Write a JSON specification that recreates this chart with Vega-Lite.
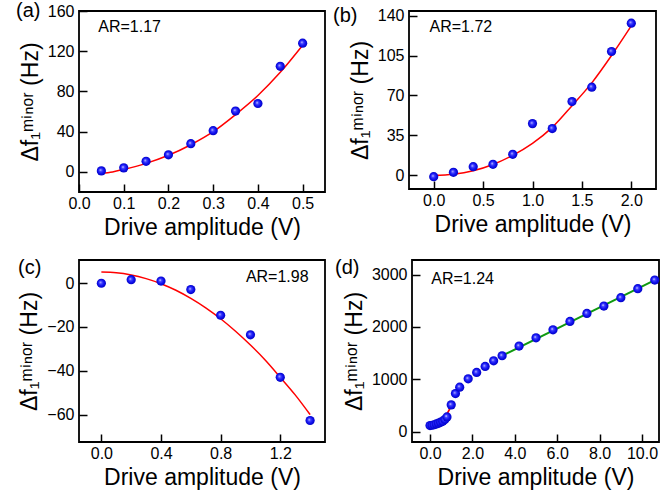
{
  "$schema": "https://vega.github.io/schema/vega-lite/v6.json",
  "padding": {"left": 15, "top": 0, "right": 0, "bottom": 0},
  "background": "white",
  "config": {
    "view": {"stroke": "black", "strokeWidth": 1.8},
    "font": "Liberation Sans",
    "axis": {
      "domain": false, "grid": false,
      "labelFont": "Liberation Sans", "labelFontSize": 16, "labelColor": "black", "labelLimit": 300,
      "titleFont": "Liberation Sans", "titleFontSize": 23, "titleFontWeight": "normal", "titleColor": "black",
      "tickColor": "black", "tickWidth": 1.5, "tickSize": -8,
      "labelFlush": false, "labelOverlap": false
    },
    "axisX": {"labelPadding": 11, "titlePadding": 5, "labelOverlap": false, "labelLimit": 300},
    "axisY": {"labelPadding": 13, "titlePadding": 5, "labelOverlap": false, "labelLimit": 300},
    "title": {"font": "Liberation Sans", "fontSize": 20, "fontWeight": "normal", "color": "black", "anchor": "start", "frame": "group"}
  },
  "datasets": {
    "pa": [{"v":0.05,"f":1},{"v":0.1,"f":4},{"v":0.15,"f":10.5},{"v":0.2,"f":17},{"v":0.25,"f":28},{"v":0.3,"f":41},{"v":0.35,"f":60.5},{"v":0.4,"f":68},{"v":0.45,"f":105},{"v":0.5,"f":128}],
    "fa": [{"v":0.05,"f":-1.5},{"v":0.075,"f":0},{"v":0.1,"f":2.5},{"v":0.15,"f":8.5},{"v":0.2,"f":16.5},{"v":0.25,"f":27},{"v":0.3,"f":40},{"v":0.35,"f":57},{"v":0.4,"f":76},{"v":0.45,"f":99},{"v":0.5,"f":126}],
    "pb": [{"v":0,"f":-1.2},{"v":0.2,"f":2.6},{"v":0.4,"f":7.6},{"v":0.6,"f":9.6},{"v":0.8,"f":18.4},{"v":1.0,"f":45.3},{"v":1.2,"f":41},{"v":1.4,"f":64.6},{"v":1.6,"f":77.2},{"v":1.8,"f":108.5},{"v":2.0,"f":133.3}],
    "fb": [{"v":0,"f":0},{"v":0.2,"f":1},{"v":0.4,"f":4},{"v":0.6,"f":9.5},{"v":0.8,"f":17.5},{"v":1.0,"f":28},{"v":1.2,"f":42},{"v":1.4,"f":61},{"v":1.6,"f":81},{"v":1.8,"f":105},{"v":2.0,"f":131}],
    "pc": [{"v":0,"f":-0.1},{"v":0.2,"f":1.5},{"v":0.4,"f":0.9},{"v":0.6,"f":-3},{"v":0.8,"f":-14.7},{"v":1.0,"f":-23.6},{"v":1.2,"f":-43},{"v":1.4,"f":-62.7}],
    "fc": [{"v":0,"f":5},{"v":0.1,"f":4.7},{"v":0.2,"f":3.7},{"v":0.3,"f":2},{"v":0.4,"f":-0.3},{"v":0.5,"f":-3.3},{"v":0.6,"f":-7},{"v":0.7,"f":-11.3},{"v":0.8,"f":-16.3},{"v":0.9,"f":-22},{"v":1.0,"f":-28.3},{"v":1.1,"f":-35.2},{"v":1.2,"f":-43},{"v":1.3,"f":-51},{"v":1.4,"f":-60}],
    "pd": [{"v":0,"f":115},{"v":0.1,"f":120},{"v":0.2,"f":130},{"v":0.3,"f":145},{"v":0.4,"f":160},{"v":0.5,"f":178},{"v":0.6,"f":195},{"v":0.7,"f":230},{"v":0.8,"f":280},{"v":1.0,"f":510},{"v":1.2,"f":727},{"v":1.4,"f":849},{"v":1.8,"f":1008},{"v":2.2,"f":1130},{"v":2.6,"f":1244},{"v":3.0,"f":1353},{"v":3.4,"f":1449},{"v":4.2,"f":1634},{"v":5.0,"f":1793},{"v":5.8,"f":1946},{"v":6.6,"f":2106},{"v":7.4,"f":2259},{"v":8.2,"f":2400},{"v":9.0,"f":2559},{"v":9.8,"f":2731},{"v":10.6,"f":2897}],
    "fd": [{"v":0,"f":100},{"v":0.1,"f":103},{"v":0.2,"f":111},{"v":0.3,"f":128},{"v":0.4,"f":152},{"v":0.5,"f":186},{"v":0.6,"f":228},{"v":0.7,"f":280},{"v":0.8,"f":340},{"v":0.9,"f":410},{"v":0.97,"f":467}],
    "gd": [{"v":3.4,"f":1450},{"v":10.6,"f":2895}]
  },
  "vconcat": [
    {
      "hconcat": [
        {
          "width": 246, "height": 181,
          "title": {"text": "(a)", "dy": 22, "dx": -63},
          "layer": [
            {"data": {"name": "fa"}, "mark": {"type": "line", "color": "#ff0000", "strokeWidth": 1.5, "interpolate": "monotone"},
             "encoding": {
               "x": {"field": "v", "type": "quantitative", "scale": {"domain": [0, 0.55], "nice": false, "zero": false},
                     "axis": {"title": "Drive amplitude (V)", "values": [0,0.05,0.1,0.15,0.2,0.25,0.3,0.35,0.4,0.45,0.5], "labelOverlap": false, "labelLimit": 300,
                              "labelExpr": "indexof([0,0.1,0.2,0.3,0.4,0.5], datum.value) >= 0 ? format(datum.value,'.1f') : ''"}},
               "y": {"field": "f", "type": "quantitative", "scale": {"domain": [-20, 160], "nice": false, "zero": false},
                     "axis": {"title": "Δf₁ᵐⁱⁿᵒʳ (Hz)", "values": [0,20,40,60,80,100,120,140,160], "labelOverlap": false, "labelLimit": 300,
                              "labelExpr": "indexof([0,40,80,120,160], datum.value) >= 0 ? format(datum.value,'d') : ''"}}
             }},
            {"data": {"name": "pa"}, "mark": {"type": "point", "filled": true, "size": 85, "opacity": 1,
               "fill": {"gradient": "radial", "x1": 0.4, "y1": 0.4, "r1": 0, "x2": 0.5, "y2": 0.5, "r2": 0.55,
                        "stops": [{"offset": 0, "color": "#e8e8ff"}, {"offset": 0.25, "color": "#4848ff"}, {"offset": 0.6, "color": "#1010f0"}, {"offset": 1, "color": "#0000b8"}]}},
             "encoding": {"x": {"field": "v", "type": "quantitative"}, "y": {"field": "f", "type": "quantitative"}}},
            {"data": {"values": [{"label": "AR=1.17"}]},
             "mark": {"type": "text", "align": "left", "baseline": "alphabetic", "fontSize": 16, "font": "Liberation Sans", "color": "black"},
             "encoding": {"x": {"datum": 0.043, "type": "quantitative"}, "y": {"datum": 139, "type": "quantitative"}, "text": {"field": "label"}}}
          ]
        },
        {
          "width": 247, "height": 178,
          "title": {"text": "(b)", "dy": 22, "dx": -76},
          "layer": [
            {"data": {"name": "fb"}, "mark": {"type": "line", "color": "#ff0000", "strokeWidth": 1.5, "interpolate": "monotone"},
             "encoding": {
               "x": {"field": "v", "type": "quantitative", "scale": {"domain": [-0.25, 2.25], "nice": false, "zero": false},
                     "axis": {"title": "Drive amplitude (V)", "values": [0,0.25,0.5,0.75,1,1.25,1.5,1.75,2], "labelOverlap": false, "labelLimit": 300,
                              "labelExpr": "indexof([0,0.5,1,1.5,2], datum.value) >= 0 ? format(datum.value,'.1f') : ''"}},
               "y": {"field": "f", "type": "quantitative", "scale": {"domain": [-12, 144], "nice": false, "zero": false},
                     "axis": {"title": "Δf₁ᵐⁱⁿᵒʳ (Hz)", "values": [0,17.5,35,52.5,70,87.5,105,122.5,140], "labelOverlap": false, "labelLimit": 300,
                              "labelExpr": "indexof([0,35,70,105,140], datum.value) >= 0 ? format(datum.value,'d') : ''"}}
             }},
            {"data": {"name": "pb"}, "mark": {"type": "point", "filled": true, "size": 85, "opacity": 1,
               "fill": {"gradient": "radial", "x1": 0.4, "y1": 0.4, "r1": 0, "x2": 0.5, "y2": 0.5, "r2": 0.55,
                        "stops": [{"offset": 0, "color": "#e8e8ff"}, {"offset": 0.25, "color": "#4848ff"}, {"offset": 0.6, "color": "#1010f0"}, {"offset": 1, "color": "#0000b8"}]}},
             "encoding": {"x": {"field": "v", "type": "quantitative"}, "y": {"field": "f", "type": "quantitative"}}},
            {"data": {"values": [{"label": "AR=1.72"}]},
             "mark": {"type": "text", "align": "left", "baseline": "alphabetic", "fontSize": 16, "font": "Liberation Sans", "color": "black"},
             "encoding": {"x": {"datum": -0.042, "type": "quantitative"}, "y": {"datum": 126, "type": "quantitative"}, "text": {"field": "label"}}}
          ]
        }
      ],
      "spacing": 6
    },
    {
      "hconcat": [
        {
          "width": 246, "height": 182,
          "title": {"text": "(c)", "dy": 22, "dx": -61},
          "layer": [
            {"data": {"name": "fc"}, "mark": {"type": "line", "color": "#ff0000", "strokeWidth": 1.5, "interpolate": "monotone"},
             "encoding": {
               "x": {"field": "v", "type": "quantitative", "scale": {"domain": [-0.15, 1.5], "nice": false, "zero": false},
                     "axis": {"title": "Drive amplitude (V)", "values": [0,0.2,0.4,0.6,0.8,1,1.2,1.4], "labelOverlap": false, "labelLimit": 300,
                              "labelExpr": "indexof([0,0.4,0.8,1.2], datum.value) >= 0 ? format(datum.value,'.1f') : ''"}},
               "y": {"field": "f", "type": "quantitative", "scale": {"domain": [-72.5, 10.5], "nice": false, "zero": false},
                     "axis": {"title": "Δf₁ᵐⁱⁿᵒʳ (Hz)", "values": [-60,-40,-20,0], "format": "d", "labelLimit": 300}}
             }},
            {"data": {"name": "pc"}, "mark": {"type": "point", "filled": true, "size": 85, "opacity": 1,
               "fill": {"gradient": "radial", "x1": 0.4, "y1": 0.4, "r1": 0, "x2": 0.5, "y2": 0.5, "r2": 0.55,
                        "stops": [{"offset": 0, "color": "#e8e8ff"}, {"offset": 0.25, "color": "#4848ff"}, {"offset": 0.6, "color": "#1010f0"}, {"offset": 1, "color": "#0000b8"}]}},
             "encoding": {"x": {"field": "v", "type": "quantitative"}, "y": {"field": "f", "type": "quantitative"}}},
            {"data": {"values": [{"label": "AR=1.98"}]},
             "mark": {"type": "text", "align": "right", "baseline": "alphabetic", "fontSize": 16, "font": "Liberation Sans", "color": "black"},
             "encoding": {"x": {"datum": 1.39, "type": "quantitative"}, "y": {"datum": 0.3, "type": "quantitative"}, "text": {"field": "label"}}}
          ]
        },
        {
          "width": 247, "height": 182,
          "title": {"text": "(d)", "dy": 22, "dx": -77},
          "layer": [
            {"data": {"name": "fd"}, "mark": {"type": "line", "color": "#ff0000", "strokeWidth": 1.8, "interpolate": "monotone"},
             "encoding": {
               "x": {"field": "v", "type": "quantitative", "scale": {"domain": [-0.85, 10.8], "nice": false, "zero": false},
                     "axis": {"title": "Drive amplitude (V)", "values": [0,1,2,3,4,5,6,7,8,9,10], "labelOverlap": false, "labelLimit": 300,
                              "labelExpr": "indexof([0,2,4,6,8,10], datum.value) >= 0 ? format(datum.value,'.1f') : ''"}},
               "y": {"field": "f", "type": "quantitative", "scale": {"domain": [-200, 3280], "nice": false, "zero": false},
                     "axis": {"title": "Δf₁ᵐⁱⁿᵒʳ (Hz)", "values": [0,500,1000,1500,2000,2500,3000], "labelOverlap": false, "labelLimit": 300,
                              "labelExpr": "indexof([0,1000,2000,3000], datum.value) >= 0 ? format(datum.value,'d') : ''"}}
             }},
            {"data": {"name": "gd"}, "mark": {"type": "line", "color": "#109a10", "strokeWidth": 2},
             "encoding": {"x": {"field": "v", "type": "quantitative"}, "y": {"field": "f", "type": "quantitative"}}},
            {"data": {"name": "pd"}, "mark": {"type": "point", "filled": true, "size": 85, "opacity": 1,
               "fill": {"gradient": "radial", "x1": 0.4, "y1": 0.4, "r1": 0, "x2": 0.5, "y2": 0.5, "r2": 0.55,
                        "stops": [{"offset": 0, "color": "#e8e8ff"}, {"offset": 0.25, "color": "#4848ff"}, {"offset": 0.6, "color": "#1010f0"}, {"offset": 1, "color": "#0000b8"}]}},
             "encoding": {"x": {"field": "v", "type": "quantitative"}, "y": {"field": "f", "type": "quantitative"}}},
            {"data": {"values": [{"label": "AR=1.24"}]},
             "mark": {"type": "text", "align": "left", "baseline": "alphabetic", "fontSize": 16, "font": "Liberation Sans", "color": "black"},
             "encoding": {"x": {"datum": 0.06, "type": "quantitative"}, "y": {"datum": 2828, "type": "quantitative"}, "text": {"field": "label"}}}
          ]
        }
      ],
      "spacing": 8
    }
  ],
  "spacing": 17
}
